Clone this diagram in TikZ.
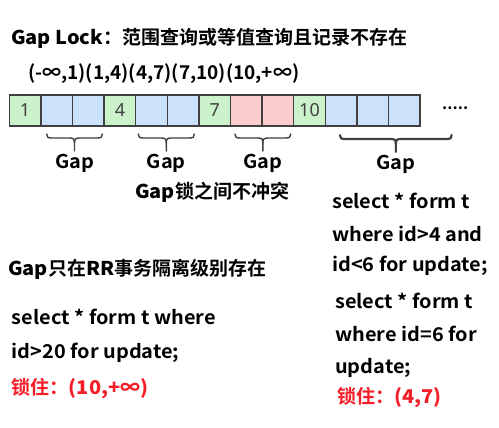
\documentclass[tikz,border=0pt]{standalone}
\usepackage{fontspec}
\setmainfont{Noto Sans CJK SC}[BoldFont={Noto Sans CJK SC Bold}]
\newfontfamily\latfont{Noto Sans CJK SC Bold}[FakeStretch=1.05]
\newfontfamily\numfont{Noto Sans}
\definecolor{cg}{RGB}{204,242,204}
\definecolor{cb}{RGB}{204,226,250}
\definecolor{cr}{RGB}{250,204,204}
\definecolor{bd}{RGB}{64,64,64}
\definecolor{rd}{RGB}{245,30,40}
\tikzset{
  cell/.style={draw=bd, line width=1.4pt, minimum width=31.6pt, minimum height=31pt, inner sep=0pt, font=\numfont\fontsize{18}{18}\selectfont, text=bd},
  txt/.style={anchor=west, inner sep=0pt, font=\bfseries\fontsize{19}{19}\selectfont, text height=0.8em, text depth=0.2em},
  code/.style={txt, font=\latfont\fontsize{19}{19}\selectfont},
  gaplabel/.style={code, anchor=center},
  bracestyle/.style={draw=bd, line width=1.4pt, line cap=round, line join=round},
}
\newcommand{\gapbrace}[4][1.4pt]{%
  \pgfmathsetmacro{\xm}{(#2+#3)/2}%
  \draw[bracestyle, line width=#1] (#2,#4) .. controls (#2,#4+3) and (#2+1,#4+4) .. (#2+5,#4+4)
     -- (\xm-5,#4+4) .. controls (\xm-1,#4+4) and (\xm,#4+5) .. (\xm,#4+9) -- (\xm,#4+17);
  \draw[bracestyle, line width=#1] (#3,#4) .. controls (#3,#4+3) and (#3-1,#4+4) .. (#3-5,#4+4)
     -- (\xm+5,#4+4) .. controls (\xm+1,#4+4) and (\xm,#4+5) .. (\xm,#4+9);
}
\begin{document}
\begin{tikzpicture}[x=1pt, y=-1pt]
\useasboundingbox[fill=white] (0,0) rectangle (499,428);
% title
\node[txt] (title) at (11,42) {{\latfont Gap Lock}：范围查询或等值查询且记录不存在};
\node[txt] (ranges) at (28,77) {(-∞,1)(1,4)(4,7)(7,10)(10,+∞)};
% cells
\foreach \i/\c/\t in {1/cg/1,2/cb/,3/cb/,4/cg/4,5/cb/,6/cb/,7/cg/7,8/cr/,9/cr/,10/cg/10,11/cb/,12/cb/,13/cb/}{
  \node[cell, fill=\c] (c\i) at ({9.3+31.6*(\i-1)+15.8},110.5) {\t};
}
\node[txt, font=\bfseries\fontsize{16}{16}\selectfont] (dots) at (442,107) {.....};
% braces
\gapbrace{46.7}{102.3}{134}
\gapbrace{138.3}{194.3}{134}
\gapbrace{235}{290.7}{134}
\gapbrace[2.2pt]{340}{451.7}{135}
\node[gaplabel] (g1) at (74.5,165) {Gap};
\node[gaplabel] (g2) at (166.3,166) {Gap};
\node[gaplabel] (g3) at (263,166) {Gap};
\node[gaplabel] (g4) at (396,167) {Gap};
\node[txt] (noconf) at (135,195) {{\latfont Gap}锁之间不冲突};
% right column 1
\node[code] (r1) at (332,205.5) {select * form t};
\node[code] (r2) at (332,238.5) {where id>4 and};
\node[code] (r3) at (332,269) {id<6 for update;};
% right column 2
\node[code] (s1) at (335,305) {select * form t};
\node[code] (s2) at (335,338) {where id=6 for};
\node[code] (s3) at (335,370) {update;};
\node[txt, text=rd] (s4) at (337,400) {锁住：{\latfont (4,7)}};
% left
\node[txt] (rr) at (8,273) {{\latfont Gap}只在{\latfont RR}事务隔离级别存在};
\node[code] (l1) at (11.7,321.5) {select * form t where};
\node[code] (l2) at (11.7,355) {id>20 for update;};
\node[txt, text=rd] (l3) at (11.7,391.5) {锁住：{\latfont (10,+∞)}};
\end{tikzpicture}
\end{document}
